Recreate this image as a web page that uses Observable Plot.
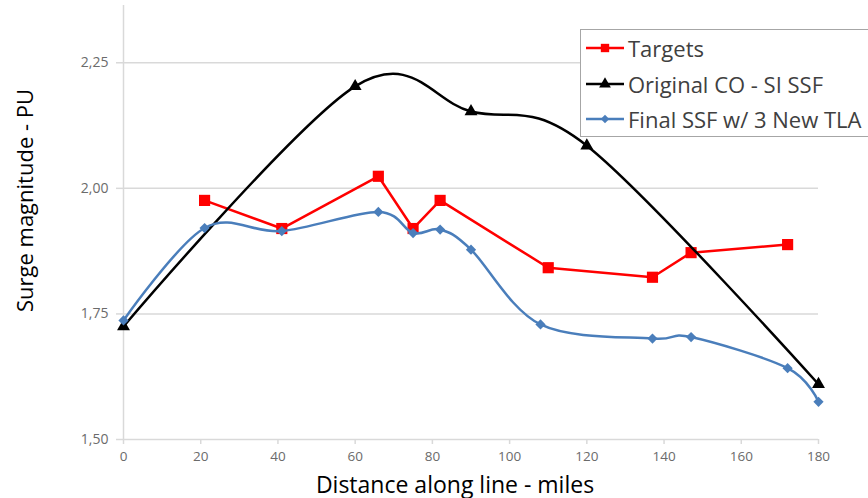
<!DOCTYPE html>
<html>
<head>
<meta charset="utf-8">
<script src="https://cdn.jsdelivr.net/npm/d3@7"></script>
<script src="https://cdn.jsdelivr.net/npm/@observablehq/plot@0.6"></script>
<style>
  html, body { margin: 0; padding: 0; background: #fff; overflow: hidden; }
  #chart { position: relative; width: 868px; height: 498px; overflow: hidden; }
  #legend {
    position: absolute; left: 580px; top: 29px; width: 320px; height: 108px;
    background: #fff; border: 1.5px solid #a6a6a6; box-sizing: border-box;
    font-family: "Open Sans", sans-serif; font-size: 22px; color: #404040;
  }
  .entry { position: absolute; left: 4px; height: 30px; display: flex; align-items: center; white-space: nowrap; }
  .entry svg { margin-right: 3px; }
</style>
</head>
<body>
<div id="chart"></div>
<script>
// Series: distance along the line (miles) and surge magnitude (per unit)
const seriesNames = ["Targets", "Original CO - SI SSF", "Final SSF w/ 3 New TLA"];
const seriesColors = ["#ff0000", "#000000", "#4a7ebb"];

const distTargets  = [21, 41, 66, 75, 82, 110, 137, 147, 172];
const surgeTargets = [1.976, 1.920, 2.024, 1.920, 1.976, 1.842, 1.823, 1.872, 1.888];

const distOriginal  = [0, 60, 90, 120, 180];
const surgeOriginal = [1.725, 2.203, 2.153, 2.085, 1.610];

const distFinal  = [0, 21, 41, 66, 75, 82, 90, 108, 137, 147, 172, 180];
const surgeFinal = [1.737, 1.921, 1.915, 1.953, 1.911, 1.918, 1.878, 1.729, 1.701, 1.704, 1.642, 1.575];

const xTicks = [0, 20, 40, 60, 80, 100, 120, 140, 160, 180];
const yTicks = [1.5, 1.75, 2.0, 2.25];

const xLabel = "Distance along line - miles";
const yLabel = "Surge magnitude - PU";

const toRows = (xs, ys) => xs.map((x, i) => ({x, y: ys[i]}));
const targets = toRows(distTargets, surgeTargets);
const original = toRows(distOriginal, surgeOriginal);
const finalSsf = toRows(distFinal, surgeFinal);

const gridColor = "#d9d9d9";
const tickColor = "#6b6b6b";
const fmt = d => d.toFixed(2).replace(".", ",");

const chart = Plot.plot({
  width: 868,
  height: 498,
  marginLeft: 123,
  marginRight: 50,
  marginTop: 5,
  marginBottom: 59,
  style: {fontFamily: "'Open Sans', sans-serif", background: "#fff"},
  x: {domain: [0, 180]},
  y: {domain: [1.5, 2.364]},
  marks: [
    Plot.gridY(yTicks.slice(1), {stroke: gridColor, strokeOpacity: 1, strokeWidth: 1.5}),
    Plot.ruleX([0], {stroke: gridColor, strokeWidth: 1.5}),
    Plot.ruleY([1.5], {stroke: gridColor, strokeWidth: 1.5}),
    Plot.axisY({ticks: yTicks, tickFormat: fmt, tickSize: 7, tickPadding: 8, stroke: gridColor, strokeWidth: 1.5, strokeOpacity: 1,
                fill: tickColor, fontSize: 14, label: null}),
    Plot.axisX({ticks: xTicks, tickSize: 5, tickPadding: 7, stroke: gridColor, strokeWidth: 1.5, strokeOpacity: 1,
                fill: tickColor, fontSize: 13.5, label: null}),
    Plot.text([yLabel], {frameAnchor: "left", textAnchor: "middle", dx: -98, dy: -22, rotate: -90, fontSize: 22, fill: "#000"}),
    Plot.text([xLabel], {frameAnchor: "bottom", dx: -16, dy: 53, fontSize: 23, fill: "#000"}),

    // Targets: straight segments with square markers
    Plot.line(targets, {x: "x", y: "y", stroke: seriesColors[0], strokeWidth: 2.5}),
    Plot.dot(targets, {x: "x", y: "y", symbol: "square", r: 6.3, fill: seriesColors[0]}),

    // Original surge profile: smoothed with triangle markers
    Plot.line(original, {x: "x", y: "y", stroke: seriesColors[1], strokeWidth: 2.5, curve: "cardinal"}),
    Plot.dot(original, {x: "x", y: "y", symbol: "triangle", r: 4.8, fill: seriesColors[1]}),

    // Final profile: smoothed with diamond markers
    Plot.line(finalSsf, {x: "x", y: "y", stroke: seriesColors[2], strokeWidth: 2.5, curve: "cardinal"}),
    Plot.dot(finalSsf, {x: "x", y: "y", symbol: "diamond2", r: 4.6, fill: seriesColors[2]})
  ]
});

const host = document.getElementById("chart");
host.appendChild(chart);

// Legend box drawn over the upper right of the plot
const legend = d3.select(host).append("div").attr("id", "legend");
const symbols = [d3.symbolSquare, d3.symbolTriangle, d3.symbolDiamond2];
const sizes = [70, 60, 45];
seriesNames.forEach((name, i) => {
  const row = legend.append("div").attr("class", "entry").style("top", `${[3, 39, 74][i]}px`);
  const sw = row.append("svg").attr("width", 40).attr("height", 14);
  sw.append("line").attr("x1", 1).attr("x2", 39).attr("y1", 7).attr("y2", 7)
    .attr("stroke", seriesColors[i]).attr("stroke-width", 2.4);
  sw.append("path").attr("transform", "translate(20,7)")
    .attr("d", d3.symbol(symbols[i], sizes[i])()).attr("fill", seriesColors[i]);
  row.append("span").text(name);
});
</script>
</body>
</html>
